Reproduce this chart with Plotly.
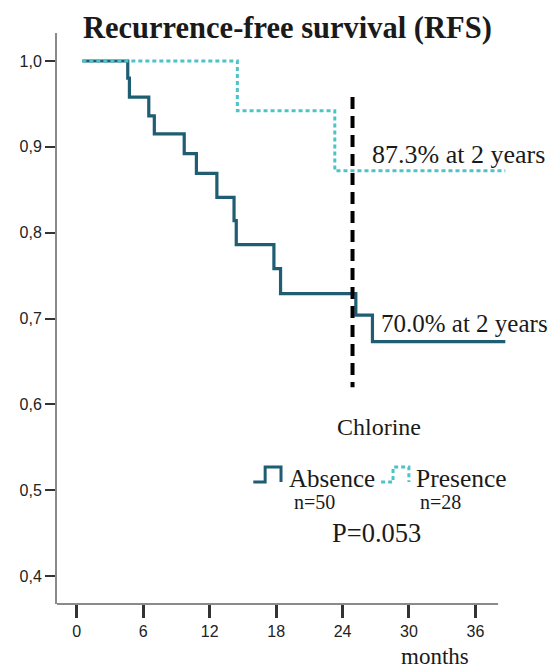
import plotly.graph_objects as go

# ---- data ----
absence_months = [0.5, 4.6, 4.75, 6.5, 7.0, 9.7, 10.8, 12.65, 14.2, 14.4, 17.8, 18.4, 25.2, 26.7, 38.7]
absence_surv = [1.0, 0.980, 0.958, 0.936, 0.915, 0.892, 0.869, 0.841, 0.814, 0.786, 0.758, 0.729, 0.704, 0.673, 0.673]
presence_months = [0.5, 14.5, 23.3, 38.7]
presence_surv = [1.0, 0.942, 0.872, 0.872]
cutoff_months = [24.9, 24.9]
cutoff_surv = [0.958, 0.620]

x_ticks = [0, 6, 12, 18, 24, 30, 36]
y_ticks = [0.4, 0.5, 0.6, 0.7, 0.8, 0.9, 1.0]
y_ticklabels = ["0,4", "0,5", "0,6", "0,7", "0,8", "0,9", "1,0"]

DARK = "#1f5d72"
CYAN = "#4cc3c9"
OFF = 8  # default page body margin
W, H = 556 - OFF, 668 - OFF
PLOT_L, PLOT_R, PLOT_T, PLOT_B = 53, 510, 33, 604   # page pixels
ML, MR, MT, MB = PLOT_L - OFF, W - (PLOT_R - OFF), PLOT_T - OFF, H - (PLOT_B - OFF)
PW, PH = W - ML - MR, H - MT - MB

def px(x):
    return (x - OFF - ML) / PW

def py(y):
    return (PLOT_B - y) / PH

fig = go.Figure()
fig.add_trace(go.Scatter(x=absence_months, y=absence_surv, mode="lines",
                         line=dict(color=DARK, width=3.2, shape="hv"), showlegend=False))
fig.add_trace(go.Scatter(x=presence_months, y=presence_surv, mode="lines",
                         line=dict(color=CYAN, width=3, shape="hv", dash="4px,3px"), showlegend=False))
fig.add_trace(go.Scatter(x=cutoff_months, y=cutoff_surv, mode="lines",
                         line=dict(color="black", width=4, dash="12px,7px"), showlegend=False))

serif = "Liberation Serif, Times New Roman, serif"
sans = "Liberation Sans, Arial, sans-serif"

def ann(text, x, y, size, xanchor="left", bold=False, color="#1a1a1a"):
    fig.add_annotation(text=("<b>%s</b>" % text) if bold else text,
                       x=px(x), y=py(y), xref="paper", yref="paper",
                       xanchor=xanchor, yanchor="middle", showarrow=False,
                       font=dict(family=serif, size=size, color=color))

ann("Recurrence-free survival (RFS)", 286, 28, 30.5, xanchor="center", bold=True)
ann("87.3% at 2 years", 369, 154, 26)
ann("70.0% at 2 years", 378, 323, 25)
ann("Chlorine", 378, 427, 24, xanchor="center")
ann("Absence", 285, 478, 25)
ann("Presence", 413, 478, 25.5)
ann("n=50", 290, 502, 20)
ann("n=28", 417, 502, 20)
ann("P=0.053", 375, 533, 26.5, xanchor="center")
ann("months", 434, 657, 23, xanchor="center")

# legend icons (step glyphs)
def icon(x0, color, dash):
    xs = [x0, x0 + 12, x0 + 12, x0 + 28, x0 + 28]
    ys = [482, 482, 467, 467, 482]
    path = "M " + " L ".join("%.4f,%.4f" % (px(a), py(b)) for a, b in zip(xs, ys))
    fig.add_shape(type="path", path=path, xref="paper", yref="paper",
                  line=dict(color=color, width=3, dash=dash))

icon(251, DARK, "solid")
icon(380, CYAN, "4px,3px")

# x axis line (ends before the plot edge, as in the reference)
fig.add_shape(type="line", xref="x", yref="paper", x0=-1.79, x1=38.05, y0=0, y1=0,
              line=dict(color="#8a8a8a", width=2))

fig.update_layout(
    width=W, height=H, margin=dict(l=ML, r=MR, t=MT, b=MB),
    paper_bgcolor="white", plot_bgcolor="white",
    xaxis=dict(range=[-1.79, -1.79 + PW / 11.17], tickvals=x_ticks, ticks="outside",
               ticklen=13, tickwidth=2.5, tickcolor="#333", showline=False,
               showgrid=False, zeroline=False,
               tickfont=dict(family=sans, size=16, color="#222")),
    yaxis=dict(range=[0.3674, 1.0326], tickvals=y_ticks, ticktext=y_ticklabels,
               ticks="outside", ticklen=10, tickwidth=2, tickcolor="#333",
               showline=True, linecolor="#8a8a8a", linewidth=2,
               showgrid=False, zeroline=False,
               tickfont=dict(family=sans, size=16, color="#222")),
)

fig.write_html("out.html")
